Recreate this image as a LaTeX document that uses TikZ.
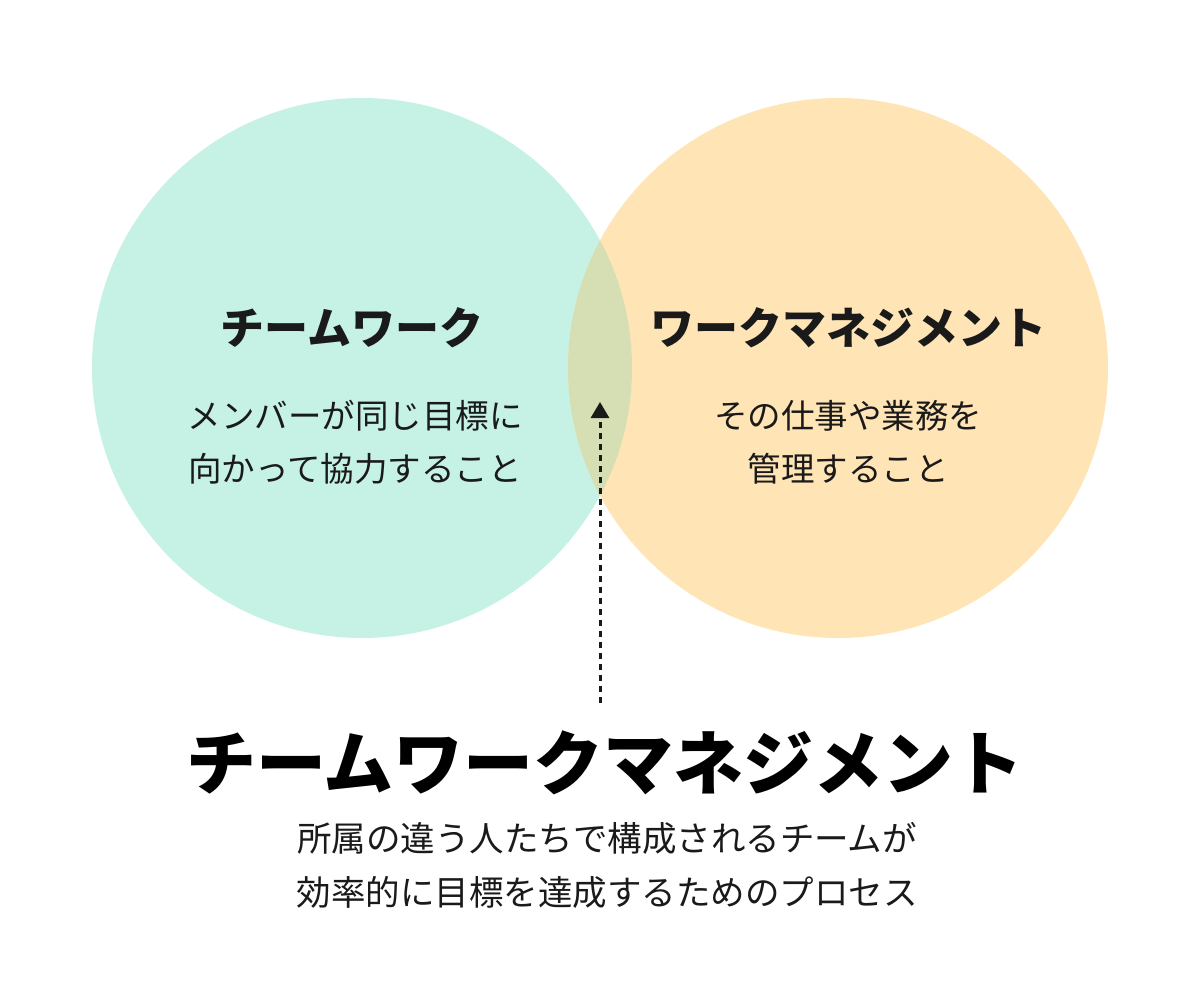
\documentclass[tikz,border=0pt]{standalone}
\usepackage{fontspec}
\setmainfont{Noto Sans CJK JP}
\usetikzlibrary{arrows.meta}
\definecolor{mint}{HTML}{C5F2E4}
\definecolor{peach}{HTML}{FFE4B5}
\definecolor{olive}{HTML}{D5DFB3}
\definecolor{ink}{HTML}{1A1A1A}
\tikzset{
  head/.style={font=\fontsize{44}{46}\selectfont\bfseries, text=ink},
  body/.style={font=\fontsize{33.5}{53}\selectfont, text=ink, align=center},
  sub/.style={font=\fontsize{34.5}{54}\selectfont, text=ink, align=center},
  title/.style={font=\fontsize{70}{74}\selectfont\bfseries, text=black},
}
\begin{document}
\begin{tikzpicture}[x=1pt,y=-1pt]
\useasboundingbox (0,0) rectangle (1200,985);
\fill[white] (0,0) rectangle (1200,985);
\fill[mint] (362,368) circle (270);
\fill[peach] (838,368) circle (270);
\begin{scope}
\clip (362,368) circle (270);
\fill[olive] (838,368) circle (270);
\end{scope}
\node[head] (tw) at (352,328) {チームワーク};
\node[head] (wm) at (848,328) {ワークマネジメント};
\node[body] (twd) at (355,442) {メンバーが同じ目標に\\向かって協力すること};
\node[body] (wmd) at (848,442) {その仕事や業務を\\管理すること};
\node[title] (t) at (605,763) {チームワークマネジメント};
\node[sub] (td) at (607,865) {所属の違う人たちで構成されるチームが\\効率的に目標を達成するためのプロセス};
\coordinate (a1) at (600,703);
\coordinate (a2) at (600,402);
\draw[ink, line width=3pt, dash pattern=on 6pt off 5pt, -{Triangle[length=16pt,width=18pt]}] (a1) -- (a2);
\end{tikzpicture}
\end{document}
